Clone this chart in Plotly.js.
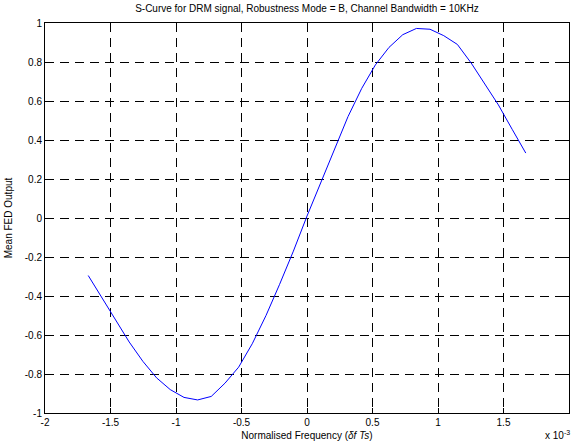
<!DOCTYPE html>
<html>
<head>
<meta charset="utf-8">
<script src="https://cdn.plot.ly/plotly-3.0.1.min.js"></script>
<style>html,body{margin:0;padding:0;background:#fff;}#chart{width:571px;height:447px;}</style>
</head>
<body>
<div id="chart"></div>
<script>
// Normalised frequency (units of 1e-3)
const freq = [-1.670, -1.566, -1.461, -1.357, -1.253, -1.148, -1.044, -0.939, -0.835, -0.731, -0.626, -0.522, -0.418, -0.313, -0.209, -0.104, 0.000,
              0.104, 0.209, 0.313, 0.418, 0.522, 0.626, 0.731, 0.835, 0.939, 1.044, 1.148, 1.253, 1.357, 1.461, 1.566, 1.670];
// Mean FED output
const fedOutput = [-0.295, -0.410, -0.525, -0.636, -0.735, -0.820, -0.880, -0.920, -0.933, -0.915, -0.847, -0.765, -0.645, -0.500, -0.340, -0.170, 0.010,
                   0.180, 0.355, 0.520, 0.665, 0.785, 0.875, 0.940, 0.972, 0.968, 0.935, 0.890, 0.795, 0.690, 0.580, 0.455, 0.333];
const xTicks = [-2, -1.5, -1, -0.5, 0, 0.5, 1, 1.5, 2];
const xTickLabels = ['-2', '-1.5', '-1', '-0.5', '0', '0.5', '1', '1.5', '2'];
const yTicks = [-1, -0.8, -0.6, -0.4, -0.2, 0, 0.2, 0.4, 0.6, 0.8, 1];
const yTickLabels = ['-1', '-0.8', '-0.6', '-0.4', '-0.2', '0', '0.2', '0.4', '0.6', '0.8', '1'];

const font = {family: 'Liberation Sans, Arial, sans-serif', size: 10, color: '#000'};
const axisCommon = {
  showline: true, linecolor: '#000', linewidth: 1, mirror: 'ticks',
  ticks: 'inside', ticklen: 5, tickcolor: '#000', tickwidth: 1,
  showgrid: true, gridcolor: '#000', gridwidth: 1, griddash: '9px,6px',
  zeroline: false, tickfont: font, tickmode: 'array'
};

const layout = {
  width: 571, height: 447,
  margin: {l: 45, r: 2, t: 23, b: 34, pad: 0},
  paper_bgcolor: '#fff', plot_bgcolor: '#fff',
  showlegend: false,
  font: font,
  title: {text: 'S-Curve for DRM signal, Robustness Mode = B, Channel Bandwidth = 10KHz',
          font: {family: font.family, size: 10, color: '#000'},
          x: 0.5375, xanchor: 'center', y: 0.988, yanchor: 'top'},
  xaxis: Object.assign({}, axisCommon, {
    range: [-2, 2], tickvals: xTicks, ticktext: xTickLabels,
    title: {text: 'Normalised Frequency (<i>δf Ts</i>)', font: font, standoff: 4}
  }),
  yaxis: Object.assign({}, axisCommon, {
    range: [-1, 1], tickvals: yTicks, ticktext: yTickLabels,
    title: {text: 'Mean FED Output', font: font, standoff: 10}
  }),
  annotations: [{
    text: 'x 10<sup>-3</sup>', xref: 'paper', yref: 'paper', x: 1.005, y: -0.035,
    xanchor: 'right', yanchor: 'top', showarrow: false, font: font
  }]
};

Plotly.newPlot('chart', [{
  x: freq, y: fedOutput, type: 'scatter', mode: 'lines',
  line: {color: '#0000ff', width: 1}
}], layout, {staticPlot: true, displayModeBar: false});
</script>
</body>
</html>
